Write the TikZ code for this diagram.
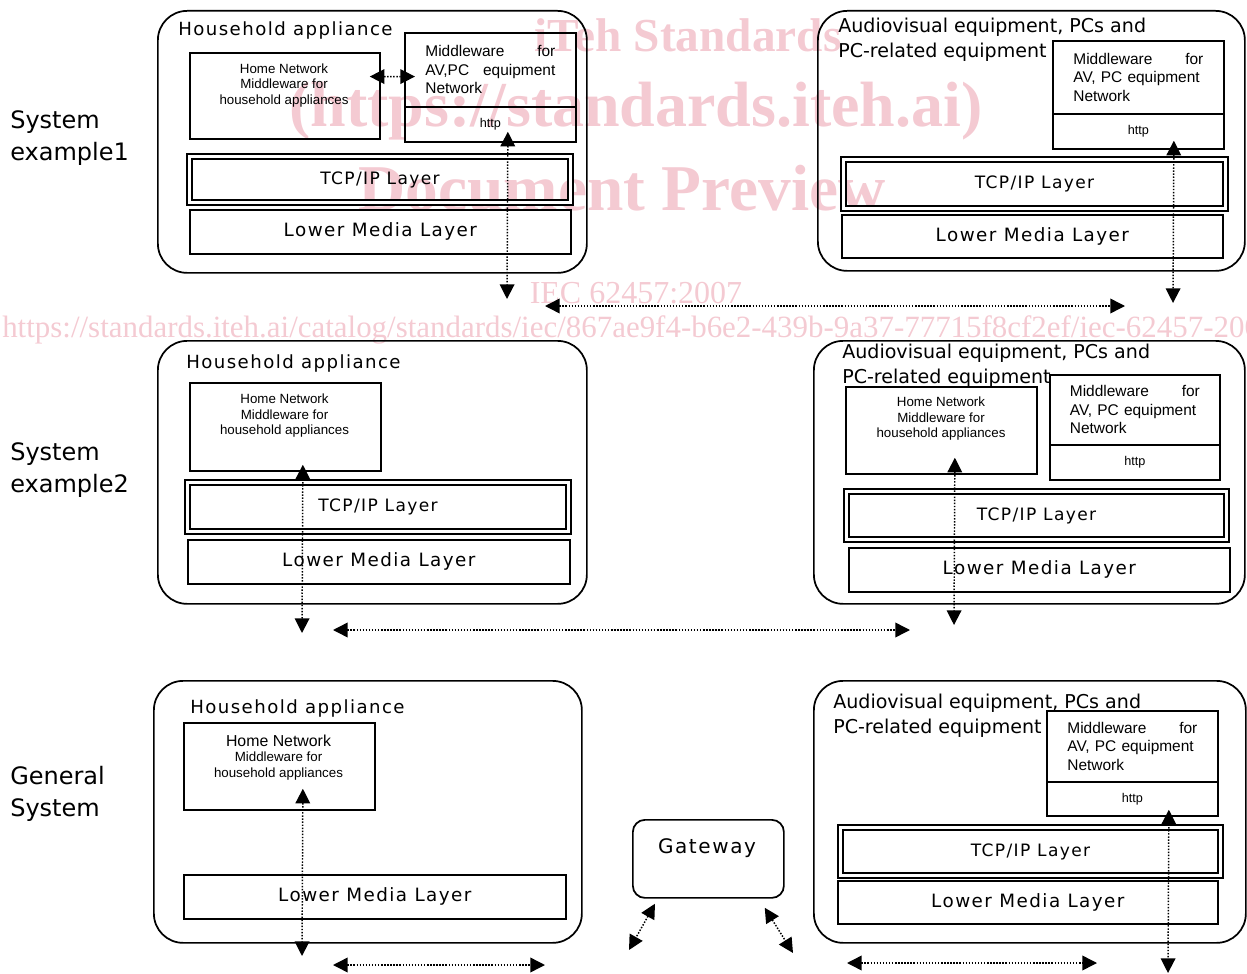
\documentclass[tikz,border=0pt]{standalone}
\usepackage{fontspec}
\setmainfont{Liberation Sans}
\newfontfamily\widefont{DejaVu Sans}[LetterSpace=8.0]
\newfontfamily\dejafont{DejaVu Sans}
\newfontfamily\wmfont{Liberation Serif}
\usetikzlibrary{arrows.meta,calc,positioning}
\newdimen\px \px=0.75pt
\definecolor{wmpink}{RGB}{244,202,210}

\begin{document}
\begin{tikzpicture}[x=0.75pt,y=0.75pt,yscale=-1,xscale=1,
    housing/.style={draw, line width=1.3pt, rounded corners=22pt, anchor=north west, inner sep=0pt},
    plainbox/.style={draw, line width=1.3pt, anchor=north west, inner sep=0pt},
    tcpbox/.style={draw, line width=1.5pt, double, double distance=2pt, anchor=north west, inner sep=0pt,
        font=\widefont\fontsize{12.8pt}{15pt}\selectfont},
    lmbox/.style={plainbox, font=\widefont\fontsize{13.75pt}{16pt}\selectfont},
    mwbox/.style={plainbox, text width=97.5pt, align=left, font=\fontsize{11.6pt}{13.9pt}\selectfont},
    httpbox/.style={plainbox, font=\fontsize{9.5pt}{11pt}\selectfont},
    hntext/.style={align=center, inner sep=0pt, font=\fontsize{10pt}{11.6pt}\selectfont},
    hhtitle/.style={anchor=base west, inner sep=0pt, font=\widefont\fontsize{13.6pt}{16pt}\selectfont},
    avtitle/.style={anchor=north west, align=left, inner sep=0pt, font=\dejafont\fontsize{14.3pt}{18.75pt}\selectfont},
    sidelabel/.style={anchor=north west, align=left, inner sep=0pt, font=\dejafont\fontsize{18pt}{24pt}\selectfont},
    gwbox/.style={draw, line width=1.3pt, rounded corners=9pt, anchor=north west, inner sep=0pt},
    wmark/.style={text=wmpink, inner sep=0pt},
    link/.style={line width=1.1pt, dash pattern=on 1.1pt off 1.2pt, >={Triangle[length=11pt,width=11pt]}, <->}
    ]
    \useasboundingbox (0,0) rectangle (1247,974);

    % Watermark
    \node[wmark, font=\wmfont\bfseries\fontsize{35.5pt}{40pt}\selectfont] (wm1) at (688,35) {iTeh Standards};
    \node[wmark, font=\wmfont\bfseries\fontsize{48pt}{54pt}\selectfont] (wm2) at (636,111) {(https://standards.iteh.ai)};
    \node[wmark, font=\wmfont\bfseries\fontsize{49pt}{54pt}\selectfont] (wm3) at (622,188) {Document Preview};
    \node[wmark, font=\wmfont\fontsize{24pt}{28pt}\selectfont] (wm4) at (636,293) {IEC 62457:2007};
    \node[wmark, anchor=west, font=\wmfont\fontsize{23.2pt}{26pt}\selectfont] (wm5) at (2,330) {https://standards.iteh.ai/catalog/standards/iec/867ae9f4-b6e2-439b-9a37-77715f8cf2ef/iec-62457-2007};

    % Side labels
    \node[sidelabel] (sys1) at (10,110) {System\\example1};
    \node[sidelabel] (sys2) at (10,442) {System\\example2};
    \node[sidelabel] (gen) at (10,766) {General\\System};

    % System example 1 : household appliance
    \node[housing, minimum width=429\px, minimum height=262\px] (hh1) at (157,10) {};
    \node[hhtitle] (hh1t) at (178,36) {Household appliance};
    \node[plainbox, minimum width=190\px, minimum height=86\px] (hnm1) at (189,52) {};
    \node[hntext] (hnm1t) at (284,85.5) {Home Network\\Middleware for\\household appliances};
    \node[mwbox, minimum width=171\px, minimum height=74\px] (mw1) at (404,32) {Middleware\hfill for\\AV,PC\hfill equipment\\Network};
    \node[httpbox, minimum width=171\px, minimum height=35\px] (http1) at (404,106) {http};
    \node[tcpbox, minimum width=381\px, minimum height=46\px] (tcp1) at (188.5,155.5) {TCP/IP Layer};
    \node[lmbox, minimum width=381\px, minimum height=44\px] (lml1) at (189,209) {Lower Media Layer};

    % System example 1 : AV, PC equipment
    \node[housing, minimum width=427\px, minimum height=260\px] (av1) at (817,10) {};
    \node[avtitle] (av1t) at (838,17.5) {Audiovisual equipment, PCs and\\PC-related equipment};
    \node[mwbox, minimum width=171\px, minimum height=73\px] (mw2) at (1052,40) {Middleware\hfill for\\AV, PC equipment\\Network};
    \node[httpbox, minimum width=171\px, minimum height=35\px] (http2) at (1052,113) {http};
    \node[tcpbox, minimum width=382\px, minimum height=49\px] (tcp2) at (842.5,158.5) {TCP/IP Layer};
    \node[lmbox, minimum width=381\px, minimum height=43\px] (lml2) at (841,214) {Lower Media Layer};

    % System example 2 : household appliance
    \node[housing, minimum width=429\px, minimum height=263\px] (hh2) at (157,340) {};
    \node[hhtitle] (hh2t) at (186,368) {Household appliance};
    \node[plainbox, minimum width=191\px, minimum height=88\px] (hnm2) at (189,382) {};
    \node[hntext] (hnm2t) at (284.5,416) {Home Network\\Middleware for\\household appliances};
    \node[tcpbox, minimum width=381\px, minimum height=49\px] (tcp3) at (186.5,481.5) {TCP/IP Layer};
    \node[lmbox, minimum width=382\px, minimum height=44\px] (lml3) at (187,539) {Lower Media Layer};

    % System example 2 : AV, PC equipment
    \node[housing, minimum width=431\px, minimum height=263\px] (av2) at (813,340) {};
    \node[avtitle] (av2t) at (842,343.5) {Audiovisual equipment, PCs and\\PC-related equipment};
    \node[plainbox, minimum width=191\px, minimum height=87\px] (hnm3) at (845,386) {};
    \node[hntext] (hnm3t) at (941,419) {Home Network\\Middleware for\\household appliances};
    \node[mwbox, minimum width=170\px, minimum height=70\px] (mw3) at (1049,374) {Middleware\hfill for\\AV, PC equipment\\Network};
    \node[httpbox, minimum width=170\px, minimum height=35\px] (http3) at (1049,444) {http};
    \node[tcpbox, minimum width=380\px, minimum height=48\px] (tcp4) at (845.5,490.5) {TCP/IP Layer};
    \node[lmbox, minimum width=381\px, minimum height=44\px] (lml4) at (848,547) {Lower Media Layer};

    % General system : household appliance
    \node[housing, minimum width=428\px, minimum height=262\px] (hh3) at (153,680) {};
    \node[hhtitle] (hh3t) at (190,713) {Household appliance};
    \node[plainbox, minimum width=191\px, minimum height=87\px] (hnm4) at (183,722) {};
    \node[hntext] (hnm4t) at (278.5,757.5) {{\fontsize{11.9pt}{14pt}\selectfont Home Network}\\Middleware for\\household appliances};
    \node[lmbox, minimum width=382\px, minimum height=44\px] (lml5) at (183,874) {Lower Media Layer};

    % General system : gateway
    \node[gwbox, minimum width=151\px, minimum height=78\px] (gw) at (632,819) {};
    \node[inner sep=0pt, font=\widefont\fontsize{15pt}{18pt}\selectfont] (gwt) at (707,848) {Gateway};

    % General system : AV, PC equipment
    \node[housing, minimum width=432\px, minimum height=262\px] (av3) at (813,680) {};
    \node[avtitle] (av3t) at (833,693.5) {Audiovisual equipment, PCs and\\PC-related equipment};
    \node[mwbox, minimum width=171\px, minimum height=71\px] (mw4) at (1046,710) {Middleware\hfill for\\AV, PC equipment\\Network};
    \node[httpbox, minimum width=171\px, minimum height=34\px] (http4) at (1046,781) {http};
    \node[tcpbox, minimum width=380\px, minimum height=48\px] (tcp5) at (839.5,826.5) {TCP/IP Layer};
    \node[lmbox, minimum width=380\px, minimum height=43\px] (lml6) at (837,880) {Lower Media Layer};

    % Free ends
    \coordinate (d1) at (507,299);
    \coordinate (d2) at (1173,303);
    \coordinate (h1a) at (545,306);
    \coordinate (h1b) at (1125,306);
    \coordinate (d3) at (302,633);
    \coordinate (h2a) at (333,630);
    \coordinate (h2b) at (910,630);
    \coordinate (d4) at (954,625);
    \coordinate (d5) at (302,956);
    \coordinate (h3a) at (333,965);
    \coordinate (h3b) at (545,965);
    \coordinate (g1) at (629,950);
    \coordinate (g2) at (793,953);
    \coordinate (h4a) at (847,963);
    \coordinate (h4b) at (1097,963);
    \coordinate (d6) at (1168,973);

    % Connection
    \draw[link] ($(hnm1.east)+(-11,-19.3)$) -- ($(mw1.west)+(11,6.7)$);
    \draw[link] ($(http1.south)+(17.5,-11)$) -- (d1);
    \draw[link] ($(http2.south)+(35.5,-9)$) -- (d2);
    \draw[link] (h1a) -- (h1b);
    % Connection
    \draw[link] ($(hnm2.south)+(17.5,-7)$) -- (d3);
    \draw[link] (h2a) -- (h2b);
    \draw[link] ($(hnm3.south)+(13.5,-17)$) -- (d4);
    % Connection
    \draw[link] ($(hnm4.south)+(23.5,-22)$) -- (d5);
    \draw[link] (h3a) -- (h3b);
    \draw[link] ($(gw.south west)+(23,5)$) -- (g1);
    \draw[link] ($(gw.south east)+(-20,9)$) -- (g2);
    \draw[link] (h4a) -- (h4b);
    \draw[link] ($(http4.south)+(36.5,-7)$) -- (d6);

\end{tikzpicture}
\end{document}
